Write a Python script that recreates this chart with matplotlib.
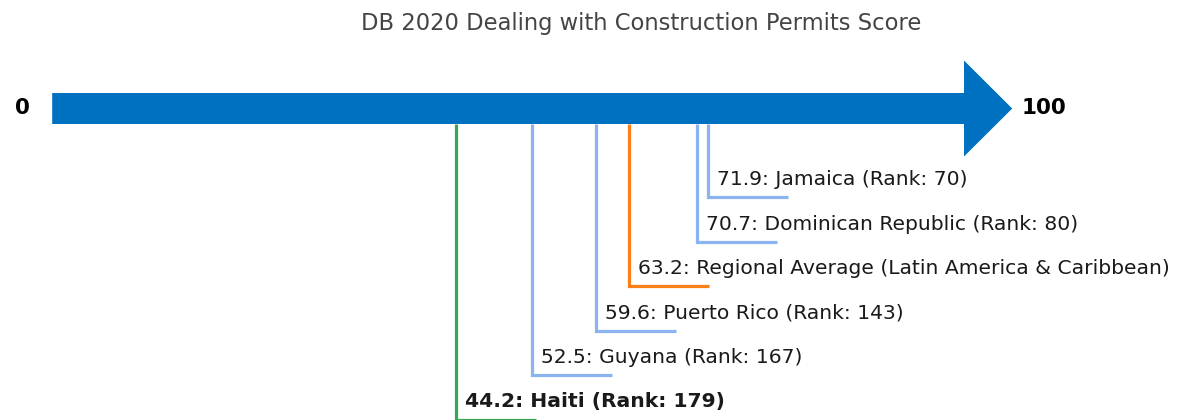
import matplotlib.pyplot as plt
from matplotlib.patches import FancyArrow

plt.rcParams["font.family"] = ["DejaVu Sans"]

# data
labels = ["Jamaica (Rank: 70)", "Dominican Republic (Rank: 80)",
          "Regional Average (Latin America & Caribbean)",
          "Puerto Rico (Rank: 143)", "Guyana (Rank: 167)", "Haiti (Rank: 179)"]
scores = [71.9, 70.7, 63.2, 59.6, 52.5, 44.2]
kinds = ["peer", "peer", "region", "peer", "peer", "focus"]

colors = {"peer": "#8AB4F0", "region": "#FA7F17", "focus": "#34A853"}

fig = plt.figure(figsize=(11.87, 4.2), dpi=100)
ax = fig.add_axes([0, 0, 1, 1])
# pixel-like layout: 9.1 px per score point, 0 at x=54px
ax.set_xlim(-54 / 9.1, (1187 - 54) / 9.1)
ax.set_ylim(420, 0)
ax.axis("off")

arrow_y = 108.5
ax.add_patch(FancyArrow(-0.2, arrow_y, 100.2, 0, width=31, head_width=96,
                        head_length=5.3, length_includes_head=False,
                        color="#0070C0", lw=0))
ax.text(-2.6, arrow_y, "0", ha="right", va="center", fontsize=15.5,
        fontweight="bold", color="black")
ax.text(106.3, arrow_y, "100", ha="left", va="center", fontsize=15.5,
        fontweight="bold", color="black")

top = arrow_y + 15.5
for i, (lab, s, k) in enumerate(zip(labels, scores, kinds)):
    yb = 197 + 44.5 * i
    c = colors[k]
    ax.plot([s, s, s + 8.8], [top, yb, yb], color=c, lw=2.3,
            solid_joinstyle="miter", solid_capstyle="butt")
    ax.text(s + 1.0, yb - 17.5, f"{s}: {lab}", ha="left", va="center",
            fontsize=14.6, color="#1a1a1a",
            fontweight="bold" if k == "focus" else "normal")

fig.text(0.54, 0.945, "DB 2020 Dealing with Construction Permits Score",
         ha="center", va="center", fontsize=16.3, color="#444444")

fig.savefig("out.png", dpi=100)
